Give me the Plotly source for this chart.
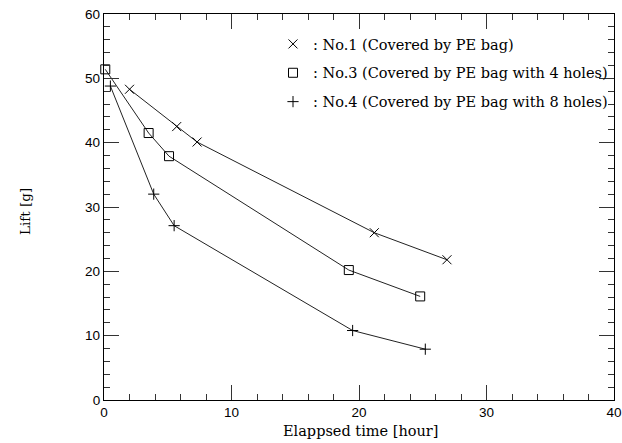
import plotly.graph_objects as go

# Data
no1_time = [2.0, 5.7, 7.3, 21.2, 26.9]
no1_lift = [48.3, 42.5, 40.1, 26.0, 21.8]
no3_time = [0.1, 3.5, 5.1, 19.2, 24.8]
no3_lift = [51.4, 41.5, 37.9, 20.2, 16.1]
no4_time = [0.5, 3.9, 5.5, 19.5, 25.2]
no4_lift = [48.8, 32.0, 27.1, 10.8, 7.9]

series_names = [
    ": No.1 (Covered by PE bag)",
    ": No.3 (Covered by PE bag with 4 holes)",
    ": No.4 (Covered by PE bag with 8 holes)",
]
x_title = "Elappsed time [hour]"
y_title = "Lift [g]"

serif = "DejaVu Serif"
sans = "Liberation Sans"

symbols = [
    dict(symbol="x-thin-open", size=9, line=dict(width=1, color="black")),
    dict(symbol="square-open", size=9, line=dict(width=1, color="black")),
    dict(symbol="cross-thin-open", size=8, line=dict(width=1, color="black")),
]
datasets = [(no1_time, no1_lift), (no3_time, no3_lift), (no4_time, no4_lift)]

fig = go.Figure()
for i, ((xs, ys), name, sym) in enumerate(zip(datasets, series_names, symbols)):
    fig.add_trace(go.Scatter(
        x=xs, y=ys, mode="lines+markers",
        line=dict(color="#222", width=1),
        marker=dict(color="black", **sym),
        showlegend=False, cliponaxis=False,
    ))
    # legend entry (symbol only)
    fig.add_trace(go.Scatter(
        x=[None], y=[None], mode="markers", name=name,
        marker=dict(color="black", **sym),
        legendgroup=f"g{i}", showlegend=True,
    ))

axis_common = dict(
    showline=True, linecolor="black", linewidth=1.3, mirror="allticks",
    ticks="inside", ticklen=15, tickwidth=1, tickcolor="#333",
    showgrid=False, zeroline=False, automargin=False,
    ticklabeloverflow="allow",
    tickfont=dict(family=sans, size=13.5, color="black"),
    minor=dict(ticks="inside", ticklen=6, tickwidth=1, tickcolor="#333", dtick=2, showgrid=False),
)

fig.update_xaxes(range=[0, 40], dtick=10, **axis_common)
fig.update_yaxes(range=[0, 60], dtick=10, **axis_common)

# body margin removed (see post_script); plot area in page px: x 104-614, y 14-400
W, H = 622, 443
L, R, T, B = 104, 8, 14, 43
pw, ph = W - L - R, H - T - B

fig.add_annotation(
    text=x_title, xref="paper", yref="paper",
    x=(360 - L) / pw, y=-(431 - 400) / ph, xanchor="center", yanchor="middle",
    showarrow=False, font=dict(family=serif, size=14.5, color="black"),
)
fig.add_annotation(
    text=y_title, xref="paper", yref="paper", textangle=-90,
    x=(25 - L) / pw, y=1 - (212 - T) / ph, xanchor="center", yanchor="middle",
    showarrow=False, font=dict(family=serif, size=13.5, color="black"),
)

fig.update_layout(
    width=W, height=H,
    margin=dict(l=L, r=R, t=T, b=B),
    paper_bgcolor="white", plot_bgcolor="white",
    legend=dict(
        x=(294 - 21 - L) / pw, y=1 - (28 - T) / ph, xanchor="left", yanchor="top",
        font=dict(family=serif, size=14.5, color="black"),
        bgcolor="rgba(0,0,0,0)", traceorder="grouped", tracegroupgap=7,
        itemwidth=30,
    ),
)

fig.write_html(
    "out.html",
    config={"displayModeBar": False},
    post_script="document.body.style.margin='0';document.body.style.overflow='hidden';",
)
